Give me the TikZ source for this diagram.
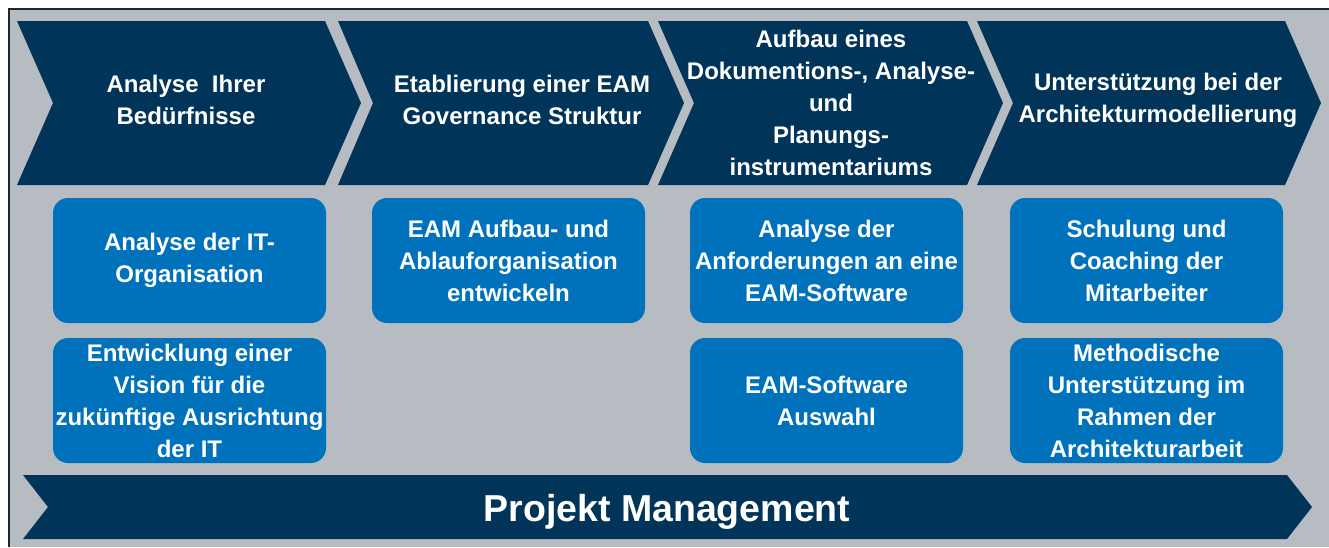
\documentclass[tikz,border=0pt]{standalone}
\usepackage{fontspec}
\setmainfont{Liberation Sans}
\definecolor{navy}{RGB}{0,52,88}
\definecolor{boxblue}{RGB}{0,114,188}
\definecolor{bggray}{RGB}{182,188,194}
\begin{document}
\begin{tikzpicture}[x=1pt,y=-1pt,
  chevtext/.style={text=white,font=\bfseries\fontsize{24}{32}\selectfont,align=center,inner sep=0pt},
  bluebox/.style={fill=boxblue,rounded corners=15pt,minimum width=273pt,minimum height=125pt,
    text=white,font=\bfseries\fontsize{24}{32}\selectfont,align=center,inner sep=0pt},
  chev/.style={fill=navy}]
\useasboundingbox (0,0) rectangle (1329,547);
\fill[bggray] (9,9) rectangle (1329,547);
\draw[line width=2pt,black!85] (9,547) -- (9,9) -- (1329,9);
% chevrons
\fill[chev] (17,21) -- (325,21) -- (361,103) -- (325,185) -- (17,185) -- (53,103) -- cycle;
\fill[chev] (338,21) -- (648,21) -- (684,103) -- (648,185) -- (338,185) -- (373,103) -- cycle;
\fill[chev] (658,21) -- (967,21) -- (1003,103) -- (967,185) -- (658,185) -- (694,103) -- cycle;
\fill[chev] (977,21) -- (1285,21) -- (1321,103) -- (1285,185) -- (977,185) -- (1013,103) -- cycle;
\node[chevtext] (c1) at (186,100) {Analyse\ \ Ihrer\\Bedürfnisse};
\node[chevtext] (c2) at (522,100) {Etablierung einer EAM\\Governance Struktur};
\node[chevtext] (c3) at (831,103) {Aufbau eines\\Dokumentions-, Analyse-\\und\\Planungs-\\instrumentariums};
\node[chevtext] (c4) at (1158,100) {Unterstützung bei der\\Architekturmodellierung};
% boxes
\node[bluebox] (b1) at (189.5,260.5) {Analyse der IT-\\Organisation};
\node[bluebox] (b2) at (508.5,260.5) {EAM Aufbau- und\\Ablauforganisation\\entwickeln};
\node[bluebox] (b3) at (826.5,260.5) {Analyse der\\Anforderungen an eine\\EAM-Software};
\node[bluebox] (b4) at (1146.5,260.5) {Schulung und\\Coaching der\\Mitarbeiter};
\node[bluebox] (b5) at (189.5,400.5) {Entwicklung einer\\Vision für die\\zukünftige Ausrichtung\\der IT};
\node[bluebox] (b6) at (826.5,400.5) {EAM-Software\\Auswahl};
\node[bluebox] (b7) at (1146.5,400.5) {Methodische\\Unterstützung im\\Rahmen der\\Architekturarbeit};
% bottom arrow
\fill[chev] (23,475) -- (1287,475) -- (1312,507) -- (1287,539) -- (23,539) -- (48,507) -- cycle;
\node[text=white,font=\bfseries\fontsize{37.5}{40}\selectfont,inner sep=0pt] (pm) at (667,512) {Projekt Management};
\end{tikzpicture}
\end{document}
